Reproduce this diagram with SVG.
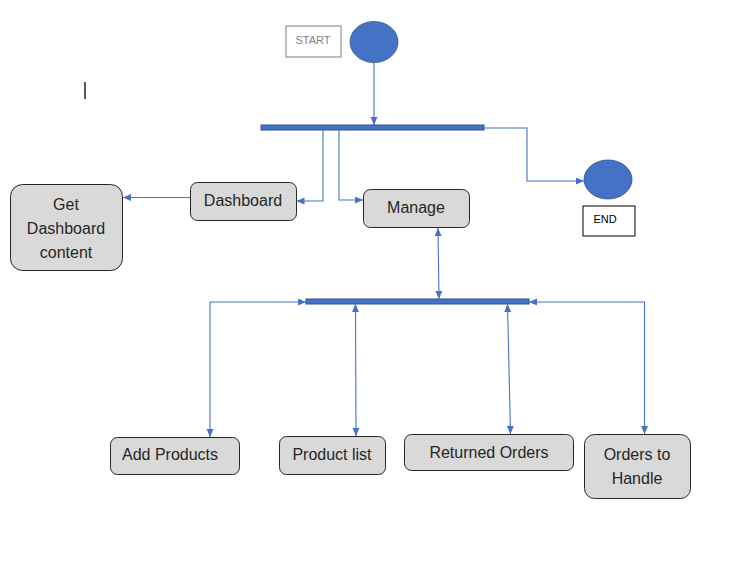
<svg xmlns="http://www.w3.org/2000/svg" width="744" height="574" viewBox="0 0 744 574">
<style>
  .box { fill: #D9D9D9; stroke: #262626; stroke-width: 1; }
  .lbl { font-family: "Liberation Sans", Arial, sans-serif; font-size: 16px; fill: #262626; text-anchor: middle; }
  .small { font-family: "Liberation Sans", Arial, sans-serif; font-size: 11px; text-anchor: middle; }
  .conn { fill: none; stroke: #4472C4; stroke-width: 1.1; }
  .bar { fill: #4472C4; stroke: #2F528F; stroke-width: 1; }
  .dot { fill: #4472C4; stroke: #2F528F; stroke-width: 0.8; }
</style>
<defs>
  <marker id="ah" markerUnits="userSpaceOnUse" markerWidth="9" markerHeight="8" refX="8" refY="3.5" orient="auto-start-reverse" viewBox="0 0 9 8">
    <path d="M0,0 L8,3.5 L0,7 z" fill="#4472C4"/>
  </marker>
</defs>

<rect width="744" height="574" fill="#FFFFFF"/>

<line x1="85" y1="82" x2="85" y2="99" stroke="#000" stroke-width="1.3"/>

<g id="start-label">
  <rect x="286" y="26" width="55" height="31" fill="#FFFFFF" stroke="#7F7F7F" stroke-width="1"/>
  <text class="small" x="313" y="44" fill="#7F7F7F">START</text>
</g>
<g id="start">
  <ellipse class="dot" cx="374" cy="42" rx="24" ry="20.5"/>
</g>
<g id="fork-top">
  <rect class="bar" x="261" y="125" width="223" height="5"/>
</g>
<g id="end">
  <ellipse class="dot" cx="608" cy="179.5" rx="24" ry="19.5"/>
</g>
<g id="end-label">
  <rect x="583" y="206" width="52" height="30" fill="#FFFFFF" stroke="#000" stroke-width="1"/>
  <text class="small" x="605" y="223" fill="#000">END</text>
</g>
<g id="dashboard">
  <rect class="box" x="190.5" y="182.5" width="106" height="38" rx="7"/>
  <text class="lbl" x="243" y="206">Dashboard</text>
</g>
<g id="get-dashboard">
  <rect class="box" x="10.5" y="184.5" width="112" height="86" rx="12"/>
  <text class="lbl" x="66" y="209.5">Get</text>
  <text class="lbl" x="66" y="234">Dashboard</text>
  <text class="lbl" x="66" y="258">content</text>
</g>
<g id="manage">
  <rect class="box" x="363.5" y="189.5" width="106" height="38" rx="7"/>
  <text class="lbl" x="416" y="213">Manage</text>
</g>
<g id="fork-bottom">
  <rect class="bar" x="306" y="299" width="223" height="5"/>
</g>
<g id="add-products">
  <rect class="box" x="110.5" y="437.5" width="129" height="37" rx="7"/>
  <text class="lbl" x="170" y="460">Add Products</text>
</g>
<g id="product-list">
  <rect class="box" x="279.5" y="436.5" width="106" height="38" rx="7"/>
  <text class="lbl" x="332" y="460">Product list</text>
</g>
<g id="returned-orders">
  <rect class="box" x="404.5" y="434.5" width="169" height="36" rx="7"/>
  <text class="lbl" x="489" y="458">Returned Orders</text>
</g>
<g id="orders-to-handle">
  <rect class="box" x="584.5" y="434.5" width="106" height="64" rx="10"/>
  <text class="lbl" x="637" y="459.5">Orders to</text>
  <text class="lbl" x="637" y="483.5">Handle</text>
</g>

<g id="connectors">
  <line class="conn" x1="374" y1="63" x2="374" y2="125" marker-end="url(#ah)"/>
  <polyline class="conn" points="323,130 323,201 296.5,201" marker-end="url(#ah)"/>
  <polyline class="conn" points="339,130 339,200 363,200" marker-end="url(#ah)"/>
  <polyline class="conn" points="484,128 527,128 527,181 584,181" marker-end="url(#ah)"/>
  <line class="conn" x1="190" y1="197.5" x2="123" y2="197.5" marker-end="url(#ah)"/>
  <line class="conn" x1="438" y1="228" x2="439" y2="299" marker-start="url(#ah)" marker-end="url(#ah)"/>
  <polyline class="conn" points="210,437 210,302 306,302" marker-start="url(#ah)" marker-end="url(#ah)"/>
  <line class="conn" x1="355.5" y1="304" x2="356" y2="436" marker-start="url(#ah)" marker-end="url(#ah)"/>
  <line class="conn" x1="507.5" y1="304" x2="510.5" y2="434" marker-start="url(#ah)" marker-end="url(#ah)"/>
  <polyline class="conn" points="529,302 644.5,302 644.5,434" marker-start="url(#ah)" marker-end="url(#ah)"/>
</g>
</svg>
